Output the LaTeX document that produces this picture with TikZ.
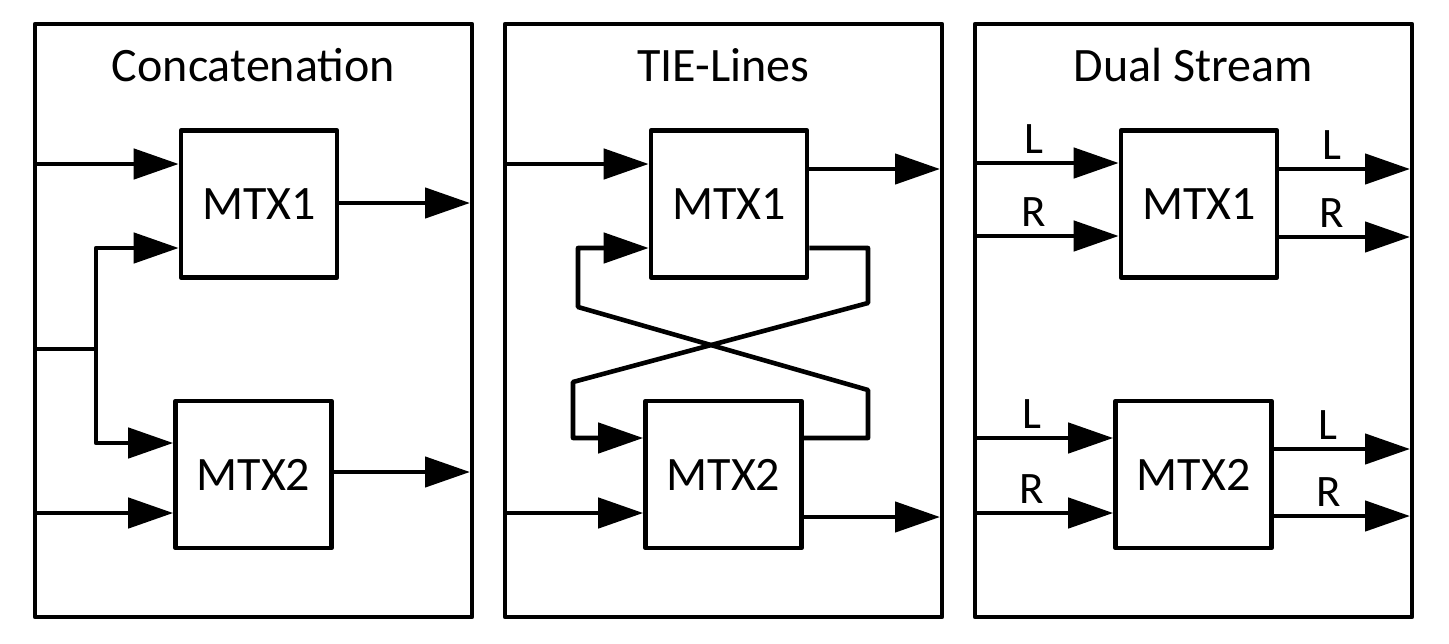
\documentclass[tikz,border=0pt]{standalone}
\usepackage{fontspec}
\setmainfont{Carlito}
\usepackage{tikz}
\usetikzlibrary{arrows.meta, calc}

\begin{document}
\begin{tikzpicture}[x=1pt, y=-1pt, line width=4.6pt, line join=round,
panel/.style={draw, minimum width=437pt, minimum height=593pt, inner sep=0pt, outer sep=-2pt},
mtx/.style={draw, minimum width=156pt, minimum height=147pt, inner sep=0pt, font=\fontsize{48}{52}\selectfont},
title/.style={anchor=base, font=\fontsize{48}{52}\selectfont},
lbl/.style={anchor=base, yshift=10pt, font=\fontsize{45}{48}\selectfont},
flow/.style={-{Triangle[length=45pt, width=30pt]}}]
\useasboundingbox (0,0) rectangle (1449,643);
\foreach \p/\x/\t in {A/253.5/Concatenation, B/723.5/TIE-Lines, C/1193.5/Dual Stream}
{
\node[panel] (p\p) at (\x,320.5) {};
\node[title] (t\p) at ([yshift=-55pt]p\p.north) {\t};
\node[mtx] (m\p1) at (\x+5.5,204) {MTX1};
\node[mtx] (m\p2) at (\x,474.5) {MTX2};
}
\coordinate (jA) at (96,349);
\draw (pA.west |- jA) -- (jA);
\draw[flow] (pA.west |- 0,164) -- (mA1.west |- 0,164);
\draw[flow] (jA) |- (mA1.west |- 0,248);
\draw[flow] (jA) |- (mA2.west |- 0,443);
\draw[flow] (pA.west |- 0,513) -- (mA2.west |- 0,513);
\draw[flow] (mA1.east |- 0,203) -- (pA.east |- 0,203);
\draw[flow] (mA2.east |- 0,472) -- (pA.east |- 0,472);
\draw[flow] (pB.west |- 0,164) -- (mB1.west |- 0,164);
\draw[flow] (pB.west |- 0,513) -- (mB2.west |- 0,513);
\draw[flow] (mB1.east |- 0,169) -- (pB.east |- 0,169);
\draw[flow] (mB2.east |- 0,517) -- (pB.east |- 0,517);
\draw[flow] (mB1.east |- 0,248) -- (868,248) -- (868,303) -- (573,382) -- (573,438) -- (mB2.west |- 0,438);
\draw[flow] (mB2.east |- 0,438) -- (868,438) -- (868,390) -- (578,307) -- (578,248) -- (mB1.west |- 0,248);
\foreach \m/\a/\b/\c/\d in {1/163/236/169/237, 2/438/513/449/516}
{
\draw[flow] (pC.west |- 0,\a) -- node[lbl, pos=.4] (iL\m) {L} (mC\m.west |- 0,\a);
\draw[flow] (pC.west |- 0,\b) -- node[lbl, pos=.4] (iR\m) {R} (mC\m.west |- 0,\b);
\draw[flow] (mC\m.east |- 0,\c) -- node[lbl, pos=.4] (oL\m) {L} (pC.east |- 0,\c);
\draw[flow] (mC\m.east |- 0,\d) -- node[lbl, pos=.4] (oR\m) {R} (pC.east |- 0,\d);
}
\end{tikzpicture}
\end{document}
